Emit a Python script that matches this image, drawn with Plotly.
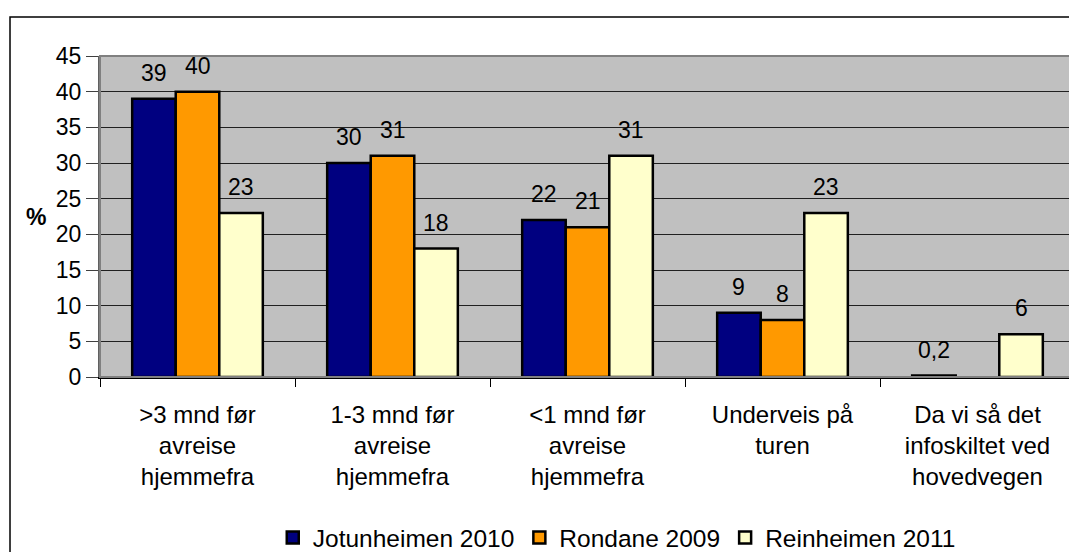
import plotly.graph_objects as go

kategorier = [
    ">3 mnd før<br>avreise<br>hjemmefra",
    "1-3 mnd før<br>avreise<br>hjemmefra",
    "<1 mnd før<br>avreise<br>hjemmefra",
    "Underveis på<br>turen",
    "Da vi så det<br>infoskiltet ved<br>hovedvegen",
]
jotunheimen_2010 = [39, 30, 22, 9, 0.2]
rondane_2009 = [40, 31, 21, 8, None]
reinheimen_2011 = [23, 18, 31, 23, 6]

serier = [
    ("Jotunheimen 2010", jotunheimen_2010, "#000080"),
    ("Rondane 2009", rondane_2009, "#FF9900"),
    ("Reinheimen 2011", reinheimen_2011, "#FFFFCC"),
]

FONT = "Liberation Sans, Arial, sans-serif"
FS = 23
BARGAP = 0.33

fig = go.Figure()
for navn, verdier, farge in serier:
    fig.add_trace(go.Bar(
        x=kategorier,
        y=verdier,
        name=navn,
        marker=dict(color=farge, line=dict(color="black", width=2.5)),
    ))

# dataetiketter over søylene
bredde = (1 - BARGAP) / len(serier)
for k, (navn, verdier, farge) in enumerate(serier):
    for i, v in enumerate(verdier):
        if v is None:
            continue
        tekst = f"{v:g}".replace(".", ",")
        fig.add_annotation(
            x=i + (k - 1) * bredde, y=v, xref="x", yref="y",
            text=tekst, showarrow=False, yanchor="middle", yshift=26,
            font=dict(family=FONT, size=FS, color="black"),
        )

# y-aksetittel, liggende
fig.add_annotation(
    x=-0.0656, y=0.50, xref="paper", yref="paper", text="<b>%</b>",
    showarrow=False, xanchor="center", yanchor="middle",
    font=dict(family=FONT, size=FS, color="black"),
)

# ramme rundt plottområdet
fig.add_shape(type="rect", xref="paper", yref="paper", x0=0, x1=1, y0=0, y1=1,
              line=dict(color="#808080", width=2), layer="above")
# ramme rundt hele diagrammet
fig.add_shape(type="rect", xref="paper", yref="paper",
              x0=-0.0923, x1=1.2, y0=-1.0, y1=1.1215,
              line=dict(color="black", width=1.5))

fig.update_layout(
    width=1077, height=552,
    margin=dict(l=92, r=10, t=48, b=183, autoexpand=False),
    paper_bgcolor="white",
    plot_bgcolor="#C0C0C0",
    barmode="group",
    bargap=BARGAP,
    bargroupgap=0,
    font=dict(family=FONT, size=FS, color="black"),
    legend=dict(
        orientation="h", x=0.53, y=-0.50, xanchor="center", yanchor="middle",
        font=dict(size=24.5), itemwidth=30, traceorder="normal",
    ),
    xaxis=dict(
        type="category", tickson="boundaries", ticks="outside", ticklen=8,
        tickcolor="black", showline=True, linecolor="black", linewidth=1.5,
        showgrid=False, tickfont=dict(size=24), ticklabelstandoff=15,
        automargin=False,
    ),
    yaxis=dict(
        range=[0, 45], dtick=5, ticks="outside", ticklen=12, tickcolor="#404040",
        gridcolor="#202020", gridwidth=1, zeroline=False,
        showline=True, linecolor="#606060", linewidth=2,
        tickfont=dict(size=FS), automargin=False,
    ),
)

fig.write_html("out.html")
